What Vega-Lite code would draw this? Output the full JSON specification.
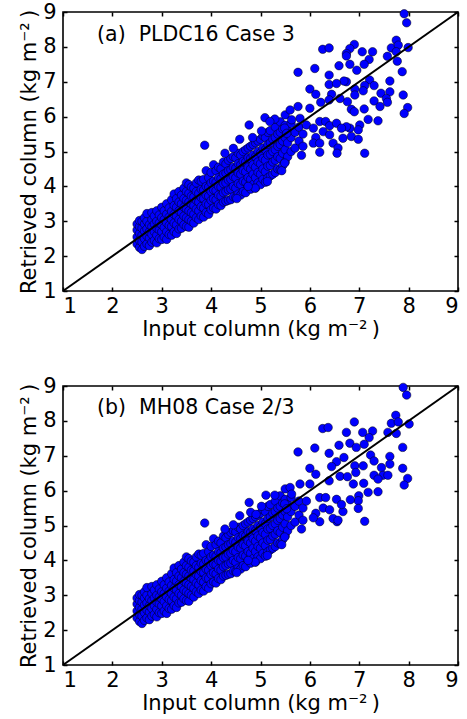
{
"$schema":"https://vega.github.io/schema/vega-lite/v6.json",
"padding":{"left":17,"top":0,"right":1,"bottom":1},
"spacing":34,
"config":{"font":"DejaVu Sans","view":{"stroke":"black","strokeWidth":1.6},
"axis":{"grid":false,"domain":false,"labelFontSize":21,"titleFontSize":21,"labelColor":"black","titleColor":"black","titleFontWeight":"normal","tickColor":"black","tickSize":-4,"tickWidth":1.5,"labelPadding":11,"titlePadding":3},
"axisX":{"labelPadding":8,"titlePadding":2}},
"datasets":{
"blob":[
{"x":2.5,"y":2.35},{"x":2.5,"y":2.55},{"x":2.5,"y":2.75},{"x":2.5,"y":2.92},
{"x":2.55,"y":2.25},{"x":2.55,"y":2.45},{"x":2.55,"y":2.65},{"x":2.55,"y":2.85},{"x":2.55,"y":3.02},
{"x":2.6,"y":2.19},{"x":2.6,"y":2.4},{"x":2.6,"y":2.6},{"x":2.6,"y":2.8},{"x":2.6,"y":3.0},
{"x":2.65,"y":2.28},{"x":2.65,"y":2.5},{"x":2.65,"y":2.72},{"x":2.65,"y":2.92},{"x":2.65,"y":3.1},
{"x":2.7,"y":2.35},{"x":2.7,"y":2.58},{"x":2.7,"y":2.78},{"x":2.7,"y":3.0},{"x":2.7,"y":3.22},
{"x":2.75,"y":2.3},{"x":2.75,"y":2.52},{"x":2.75,"y":2.7},{"x":2.75,"y":2.9},
{"x":2.8,"y":2.4},{"x":2.8,"y":2.62},{"x":2.8,"y":2.85},{"x":2.8,"y":3.05},{"x":2.8,"y":3.25},
{"x":2.85,"y":2.45},{"x":2.85,"y":2.7},{"x":2.85,"y":2.92},{"x":2.85,"y":3.15},
{"x":2.9,"y":2.38},{"x":2.9,"y":2.6},{"x":2.9,"y":2.8},{"x":2.9,"y":3.0},{"x":2.9,"y":3.3},
{"x":2.95,"y":2.5},{"x":2.95,"y":2.75},{"x":2.95,"y":2.95},{"x":2.95,"y":3.18},
{"x":3.0,"y":2.48},{"x":3.0,"y":2.7},{"x":3.0,"y":2.9},{"x":3.0,"y":3.1},{"x":3.0,"y":3.4},
{"x":3.05,"y":2.55},{"x":3.05,"y":2.82},{"x":3.05,"y":3.05},{"x":3.05,"y":3.3},
{"x":3.1,"y":2.48},{"x":3.1,"y":2.7},{"x":3.1,"y":2.95},{"x":3.1,"y":3.2},{"x":3.1,"y":3.5},
{"x":3.15,"y":2.62},{"x":3.15,"y":2.88},{"x":3.15,"y":3.12},{"x":3.15,"y":3.38},
{"x":3.2,"y":2.6},{"x":3.2,"y":2.85},{"x":3.2,"y":3.05},{"x":3.2,"y":3.28},{"x":3.2,"y":3.62},
{"x":3.25,"y":2.7},{"x":3.25,"y":2.95},{"x":3.25,"y":3.2},{"x":3.25,"y":3.45},{"x":3.25,"y":3.78},
{"x":3.3,"y":2.65},{"x":3.3,"y":2.9},{"x":3.3,"y":3.15},{"x":3.3,"y":3.4},{"x":3.3,"y":3.65},
{"x":3.35,"y":2.78},{"x":3.35,"y":3.05},{"x":3.35,"y":3.3},{"x":3.35,"y":3.55},{"x":3.35,"y":3.85},
{"x":3.4,"y":2.8},{"x":3.4,"y":3.0},{"x":3.4,"y":3.25},{"x":3.4,"y":3.5},{"x":3.4,"y":3.75},
{"x":3.45,"y":2.9},{"x":3.45,"y":3.15},{"x":3.45,"y":3.4},{"x":3.45,"y":3.65},{"x":3.45,"y":3.95},
{"x":3.5,"y":2.85},{"x":3.5,"y":3.1},{"x":3.5,"y":3.35},{"x":3.5,"y":3.6},{"x":3.5,"y":3.85},{"x":3.5,"y":4.1},
{"x":3.55,"y":2.83},{"x":3.55,"y":3.05},{"x":3.55,"y":3.3},{"x":3.55,"y":3.55},{"x":3.55,"y":3.8},{"x":3.55,"y":4.05},
{"x":3.6,"y":3.0},{"x":3.6,"y":3.25},{"x":3.6,"y":3.5},{"x":3.6,"y":3.72},{"x":3.6,"y":3.98},
{"x":3.65,"y":2.95},{"x":3.65,"y":3.2},{"x":3.65,"y":3.45},{"x":3.65,"y":3.7},{"x":3.65,"y":3.95},
{"x":3.7,"y":3.1},{"x":3.7,"y":3.35},{"x":3.7,"y":3.6},{"x":3.7,"y":3.85},{"x":3.7,"y":4.1},
{"x":3.75,"y":3.05},{"x":3.75,"y":3.3},{"x":3.75,"y":3.55},{"x":3.75,"y":3.8},{"x":3.75,"y":4.18},
{"x":3.8,"y":3.15},{"x":3.8,"y":3.42},{"x":3.8,"y":3.68},{"x":3.8,"y":3.92},{"x":3.8,"y":4.15},
{"x":3.85,"y":3.12},{"x":3.85,"y":3.38},{"x":3.85,"y":3.65},{"x":3.85,"y":3.9},{"x":3.85,"y":4.2},
{"x":3.9,"y":3.25},{"x":3.9,"y":3.5},{"x":3.9,"y":3.75},{"x":3.9,"y":4.0},{"x":3.9,"y":4.45},
{"x":3.95,"y":3.2},{"x":3.95,"y":3.48},{"x":3.95,"y":3.72},{"x":3.95,"y":3.98},{"x":3.95,"y":4.25},
{"x":4.0,"y":3.33},{"x":4.0,"y":3.6},{"x":4.0,"y":3.85},{"x":4.0,"y":4.1},{"x":4.0,"y":4.4},
{"x":4.05,"y":3.38},{"x":4.05,"y":3.65},{"x":4.05,"y":3.9},{"x":4.05,"y":4.15},{"x":4.05,"y":4.62},
{"x":4.1,"y":3.35},{"x":4.1,"y":3.62},{"x":4.1,"y":3.88},{"x":4.1,"y":4.12},{"x":4.1,"y":4.45},
{"x":4.15,"y":3.48},{"x":4.15,"y":3.75},{"x":4.15,"y":4.0},{"x":4.15,"y":4.25},{"x":4.15,"y":4.55},
{"x":4.2,"y":3.45},{"x":4.2,"y":3.72},{"x":4.2,"y":3.98},{"x":4.2,"y":4.22},{"x":4.2,"y":4.5},
{"x":4.25,"y":3.55},{"x":4.25,"y":3.82},{"x":4.25,"y":4.08},{"x":4.25,"y":4.35},{"x":4.25,"y":4.7},
{"x":4.3,"y":3.57},{"x":4.3,"y":3.85},{"x":4.3,"y":4.1},{"x":4.3,"y":4.38},{"x":4.3,"y":4.65},
{"x":4.35,"y":3.6},{"x":4.35,"y":3.9},{"x":4.35,"y":4.18},{"x":4.35,"y":4.45},{"x":4.35,"y":4.75},
{"x":4.4,"y":3.62},{"x":4.4,"y":3.92},{"x":4.4,"y":4.2},{"x":4.4,"y":4.48},{"x":4.4,"y":4.8},
{"x":4.45,"y":3.7},{"x":4.45,"y":4.0},{"x":4.45,"y":4.28},{"x":4.45,"y":4.55},{"x":4.45,"y":4.85},
{"x":4.5,"y":3.68},{"x":4.5,"y":3.95},{"x":4.5,"y":4.25},{"x":4.5,"y":4.52},{"x":4.5,"y":4.82},
{"x":4.55,"y":3.78},{"x":4.55,"y":4.08},{"x":4.55,"y":4.38},{"x":4.55,"y":4.65},{"x":4.55,"y":4.95},
{"x":4.6,"y":3.75},{"x":4.6,"y":4.05},{"x":4.6,"y":4.35},{"x":4.6,"y":4.62},{"x":4.6,"y":4.9},
{"x":4.65,"y":3.85},{"x":4.65,"y":4.15},{"x":4.65,"y":4.45},{"x":4.65,"y":4.72},{"x":4.65,"y":5.0},
{"x":4.7,"y":3.82},{"x":4.7,"y":4.12},{"x":4.7,"y":4.42},{"x":4.7,"y":4.7},{"x":4.7,"y":5.05},
{"x":4.75,"y":4.0},{"x":4.75,"y":4.25},{"x":4.75,"y":4.55},{"x":4.75,"y":4.82},{"x":4.75,"y":5.1},
{"x":4.8,"y":3.92},{"x":4.8,"y":4.2},{"x":4.8,"y":4.5},{"x":4.8,"y":4.8},{"x":4.8,"y":5.15},
{"x":4.85,"y":4.05},{"x":4.85,"y":4.35},{"x":4.85,"y":4.62},{"x":4.85,"y":4.9},{"x":4.85,"y":5.2},
{"x":4.9,"y":3.95},{"x":4.9,"y":4.25},{"x":4.9,"y":4.55},{"x":4.9,"y":4.85},{"x":4.9,"y":5.25},
{"x":4.95,"y":4.1},{"x":4.95,"y":4.4},{"x":4.95,"y":4.7},{"x":4.95,"y":5.0},{"x":4.95,"y":5.3},
{"x":5.0,"y":4.05},{"x":5.0,"y":4.35},{"x":5.0,"y":4.65},{"x":5.0,"y":4.95},{"x":5.0,"y":5.35},
{"x":5.05,"y":4.2},{"x":5.05,"y":4.5},{"x":5.05,"y":4.8},{"x":5.05,"y":5.1},{"x":5.05,"y":5.45},
{"x":5.1,"y":4.12},{"x":5.1,"y":4.42},{"x":5.1,"y":4.75},{"x":5.1,"y":5.05},{"x":5.1,"y":5.4},
{"x":5.15,"y":4.25},{"x":5.15,"y":4.58},{"x":5.15,"y":4.9},{"x":5.15,"y":5.2},{"x":5.15,"y":5.55},
{"x":5.2,"y":4.3},{"x":5.2,"y":4.6},{"x":5.2,"y":4.92},{"x":5.2,"y":5.25},{"x":5.2,"y":5.6},
{"x":5.25,"y":4.35},{"x":5.25,"y":4.7},{"x":5.25,"y":5.0},{"x":5.25,"y":5.35},
{"x":5.3,"y":4.4},{"x":5.3,"y":4.75},{"x":5.3,"y":5.05},{"x":5.3,"y":5.4},{"x":5.3,"y":5.7},
{"x":5.35,"y":4.5},{"x":5.35,"y":4.85},{"x":5.35,"y":5.15},{"x":5.35,"y":5.5},
{"x":5.4,"y":4.48},{"x":5.4,"y":4.8},{"x":5.4,"y":5.2},{"x":5.4,"y":5.55},{"x":5.4,"y":5.85},
{"x":5.45,"y":4.6},{"x":5.45,"y":4.95},{"x":5.45,"y":5.3},{"x":5.45,"y":5.65},
{"x":5.5,"y":4.7},{"x":5.5,"y":5.05},{"x":5.5,"y":5.4},{"x":5.5,"y":5.75},{"x":5.5,"y":6.05},
{"x":5.55,"y":4.85},{"x":5.55,"y":5.25},{"x":5.55,"y":5.6},
{"x":5.62,"y":5.0},{"x":5.62,"y":5.4},{"x":5.62,"y":5.8},
{"x":5.7,"y":5.1},{"x":5.7,"y":5.55},
{"x":5.78,"y":5.3},{"x":5.78,"y":5.7},
{"x":5.86,"y":5.15},{"x":5.86,"y":5.5}
],
"sa":[
{"x":7.91,"y":8.95},{"x":7.96,"y":8.69},{"x":7.75,"y":8.19},{"x":7.65,"y":7.97},{"x":7.79,"y":8.05},{"x":7.99,"y":7.98},{"x":7.75,"y":7.86},{"x":7.57,"y":7.73},{"x":7.77,"y":7.59},{"x":7.87,"y":7.29},
{"x":6.9,"y":8.07},{"x":6.81,"y":7.95},{"x":6.74,"y":7.81},{"x":7.06,"y":7.86},{"x":7.27,"y":7.86},{"x":7.2,"y":7.64},{"x":7.1,"y":7.5},{"x":6.81,"y":7.5},{"x":6.95,"y":7.33},{"x":7.62,"y":7.02},
{"x":7.21,"y":7.05},{"x":7.3,"y":6.89},{"x":7.11,"y":6.89},{"x":7.08,"y":6.74},{"x":6.91,"y":6.79},{"x":6.74,"y":7.0},{"x":6.91,"y":6.62},{"x":7.44,"y":6.67},{"x":7.62,"y":6.71},{"x":7.89,"y":6.62},
{"x":7.55,"y":6.52},{"x":7.57,"y":6.41},{"x":7.3,"y":6.45},{"x":7.42,"y":6.29},{"x":6.76,"y":6.43},{"x":7.1,"y":6.22},{"x":6.84,"y":6.21},{"x":6.9,"y":6.14},{"x":7.98,"y":6.26},{"x":7.91,"y":6.09},
{"x":7.18,"y":5.92},{"x":7.38,"y":5.88},{"x":7.01,"y":5.76},{"x":6.98,"y":5.62},{"x":6.81,"y":5.67},{"x":6.84,"y":5.43},{"x":6.98,"y":5.35},{"x":6.74,"y":5.71},{"x":7.11,"y":4.95},
{"x":6.26,"y":7.93},{"x":6.39,"y":7.97},{"x":6.74,"y":7.74},{"x":5.76,"y":7.27},{"x":6.1,"y":7.38},{"x":6.59,"y":7.46},{"x":6.39,"y":7.19},{"x":6.69,"y":7.02},{"x":6.39,"y":6.92},{"x":6.54,"y":6.95},
{"x":6.0,"y":6.79},{"x":6.12,"y":6.64},{"x":6.44,"y":6.64},{"x":6.61,"y":6.52},{"x":6.22,"y":6.41},{"x":6.39,"y":6.48},{"x":6.0,"y":6.24},{"x":5.76,"y":6.29},{"x":5.6,"y":6.19},{"x":5.63,"y":5.91},
{"x":5.8,"y":5.95},{"x":5.93,"y":5.76},{"x":5.09,"y":5.97},{"x":5.29,"y":5.93},{"x":5.19,"y":5.86},{"x":4.77,"y":5.76},{"x":5.02,"y":5.59},{"x":4.58,"y":5.35},{"x":4.84,"y":5.4},{"x":5.49,"y":5.67},
{"x":5.53,"y":5.52},{"x":6.07,"y":5.67},{"x":6.2,"y":5.86},{"x":6.32,"y":5.86},{"x":6.4,"y":5.74},{"x":6.54,"y":5.81},{"x":6.64,"y":5.67},{"x":6.27,"y":5.57},{"x":6.4,"y":5.48},{"x":6.12,"y":5.4},
{"x":6.07,"y":5.24},{"x":6.2,"y":5.24},{"x":6.47,"y":5.24},{"x":6.57,"y":5.1},{"x":6.67,"y":5.38},{"x":6.55,"y":4.95},{"x":6.2,"y":4.98},{"x":5.83,"y":4.89},{"x":4.52,"y":3.65},{"x":4.89,"y":3.95},
{"x":4.75,"y":4.0},{"x":5.14,"y":4.14},{"x":5.43,"y":4.45},{"x":5.49,"y":4.67},{"x":4.45,"y":5.09},{"x":3.87,"y":5.18},{"x":4.28,"y":4.95}
],
"sb":[
{"x":7.89,"y":8.96},{"x":7.96,"y":8.74},{"x":7.74,"y":8.16},{"x":7.65,"y":7.93},{"x":7.79,"y":7.97},{"x":8.01,"y":7.91},{"x":7.75,"y":7.64},{"x":7.58,"y":7.67},{"x":7.88,"y":7.24},
{"x":6.26,"y":7.78},{"x":6.37,"y":7.81},{"x":6.9,"y":7.97},{"x":6.74,"y":7.67},{"x":7.07,"y":7.67},{"x":7.27,"y":7.71},{"x":7.2,"y":7.52},{"x":6.81,"y":7.36},{"x":6.94,"y":7.24},{"x":7.1,"y":7.33},
{"x":5.76,"y":7.11},{"x":6.1,"y":7.22},{"x":6.59,"y":7.3},{"x":6.39,"y":7.07},{"x":6.69,"y":6.95},{"x":6.54,"y":6.83},{"x":6.44,"y":6.69},{"x":6.0,"y":6.64},{"x":6.12,"y":6.47},{"x":6.39,"y":6.28},
{"x":6.61,"y":6.41},{"x":6.76,"y":6.4},{"x":6.91,"y":6.71},{"x":6.93,"y":6.52},{"x":7.08,"y":6.71},{"x":7.23,"y":7.02},{"x":7.3,"y":6.85},{"x":7.45,"y":6.66},{"x":7.62,"y":6.98},{"x":7.62,"y":6.76},
{"x":7.48,"y":6.44},{"x":7.58,"y":6.44},{"x":7.3,"y":6.44},{"x":7.38,"y":6.33},{"x":7.88,"y":6.64},{"x":7.98,"y":6.35},{"x":7.91,"y":6.16},{"x":7.09,"y":6.21},{"x":6.88,"y":6.19},{"x":7.18,"y":5.95},
{"x":7.38,"y":5.97},{"x":6.99,"y":5.85},{"x":6.98,"y":5.71},{"x":6.82,"y":5.74},{"x":6.98,"y":5.49},{"x":7.11,"y":5.12},{"x":6.55,"y":5.11},{"x":6.2,"y":5.11},{"x":5.6,"y":6.09},{"x":5.63,"y":5.9},
{"x":5.8,"y":6.19},{"x":6.0,"y":6.19},{"x":5.11,"y":5.87},{"x":5.29,"y":5.87},{"x":4.77,"y":5.66},{"x":5.02,"y":5.55},{"x":4.58,"y":5.28},{"x":4.8,"y":5.38},{"x":4.91,"y":5.32},{"x":3.87,"y":5.07},
{"x":4.28,"y":4.9},{"x":4.45,"y":5.02},{"x":5.83,"y":4.9},{"x":4.52,"y":3.65},{"x":4.89,"y":3.95},{"x":4.75,"y":4.0},{"x":5.14,"y":4.14},{"x":5.43,"y":4.45},{"x":5.49,"y":4.67},{"x":6.27,"y":5.5},
{"x":6.4,"y":5.45},{"x":6.12,"y":5.35},{"x":6.07,"y":5.22},{"x":6.47,"y":5.2},{"x":6.57,"y":5.15},{"x":6.67,"y":5.4},{"x":6.2,"y":5.8},{"x":6.32,"y":5.8},{"x":6.54,"y":5.75},{"x":6.64,"y":5.6},
{"x":5.93,"y":5.7},{"x":5.49,"y":5.62},{"x":5.53,"y":5.48}
],
"diag":[{"x":1,"y":1},{"x":9,"y":9}]
},
"vconcat":[
{"width":395,"height":279,
"layer":[
{"data":{"name":"blob"},"mark":{"type":"circle","size":72,"color":"#0000ff","stroke":"black","strokeWidth":0.5,"opacity":1},
"encoding":{"x":{"field":"x","type":"quantitative","scale":{"domain":[1,9],"nice":false,"zero":false},"axis":{"values":[1,2,3,4,5,6,7,8,9],"title":"Input column (kg m⁻²\u2009)"}},
"y":{"field":"y","type":"quantitative","scale":{"domain":[1,9],"nice":false,"zero":false},"axis":{"values":[1,2,3,4,5,6,7,8,9],"title":"Retrieved column (kg m⁻²\u2009)"}}}},
{"data":{"name":"sa"},"mark":{"type":"circle","size":72,"color":"#0000ff","stroke":"black","strokeWidth":0.5,"opacity":1},
"encoding":{"x":{"field":"x","type":"quantitative","scale":{"domain":[1,9],"nice":false,"zero":false},"axis":null},
"y":{"field":"y","type":"quantitative","scale":{"domain":[1,9],"nice":false,"zero":false},"axis":null}}},
{"data":{"name":"diag"},"mark":{"type":"line","color":"black","strokeWidth":2},
"encoding":{"x":{"field":"x","type":"quantitative","scale":{"domain":[1,9],"nice":false,"zero":false},"axis":{"orient":"top","labels":false,"title":null,"values":[1,2,3,4,5,6,7,8,9]}},
"y":{"field":"y","type":"quantitative","scale":{"domain":[1,9],"nice":false,"zero":false},"axis":{"orient":"right","labels":false,"title":null,"values":[1,2,3,4,5,6,7,8,9]}}}},
{"data":{"values":[{}]},"mark":{"type":"text","text":"(a)\u00a0 PLDC16 Case 3","align":"left","baseline":"alphabetic","fontSize":20.5,"color":"black"},
"encoding":{"x":{"datum":1.69,"type":"quantitative","scale":{"domain":[1,9],"nice":false,"zero":false},"axis":null},"y":{"datum":8.17,"type":"quantitative","scale":{"domain":[1,9],"nice":false,"zero":false},"axis":null}}}
],
"resolve":{"axis":{"x":"independent","y":"independent"}}},
{"width":395,"height":279,
"layer":[
{"data":{"name":"blob"},"mark":{"type":"circle","size":72,"color":"#0000ff","stroke":"black","strokeWidth":0.5,"opacity":1},
"encoding":{"x":{"field":"x","type":"quantitative","scale":{"domain":[1,9],"nice":false,"zero":false},"axis":{"values":[1,2,3,4,5,6,7,8,9],"title":"Input column (kg m⁻²\u2009)"}},
"y":{"field":"y","type":"quantitative","scale":{"domain":[1,9],"nice":false,"zero":false},"axis":{"values":[1,2,3,4,5,6,7,8,9],"title":"Retrieved column (kg m⁻²\u2009)"}}}},
{"data":{"name":"sb"},"mark":{"type":"circle","size":72,"color":"#0000ff","stroke":"black","strokeWidth":0.5,"opacity":1},
"encoding":{"x":{"field":"x","type":"quantitative","scale":{"domain":[1,9],"nice":false,"zero":false},"axis":null},
"y":{"field":"y","type":"quantitative","scale":{"domain":[1,9],"nice":false,"zero":false},"axis":null}}},
{"data":{"name":"diag"},"mark":{"type":"line","color":"black","strokeWidth":2},
"encoding":{"x":{"field":"x","type":"quantitative","scale":{"domain":[1,9],"nice":false,"zero":false},"axis":{"orient":"top","labels":false,"title":null,"values":[1,2,3,4,5,6,7,8,9]}},
"y":{"field":"y","type":"quantitative","scale":{"domain":[1,9],"nice":false,"zero":false},"axis":{"orient":"right","labels":false,"title":null,"values":[1,2,3,4,5,6,7,8,9]}}}},
{"data":{"values":[{}]},"mark":{"type":"text","text":"(b)\u00a0 MH08 Case 2/3","align":"left","baseline":"alphabetic","fontSize":20.5,"color":"black"},
"encoding":{"x":{"datum":1.69,"type":"quantitative","scale":{"domain":[1,9],"nice":false,"zero":false},"axis":null},"y":{"datum":8.19,"type":"quantitative","scale":{"domain":[1,9],"nice":false,"zero":false},"axis":null}}}
],
"resolve":{"axis":{"x":"independent","y":"independent"}}}
]
}
